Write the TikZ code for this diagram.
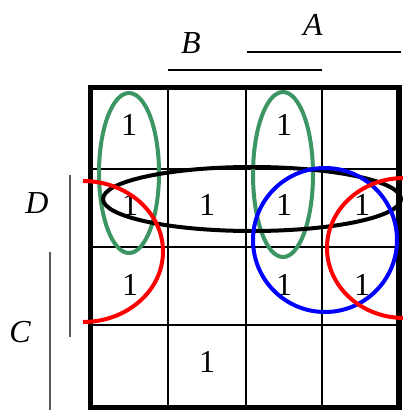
\documentclass[tikz,border=0pt]{standalone}
\usepackage{fontspec}
\setmainfont{Liberation Serif}
\definecolor{kgreen}{RGB}{60,150,100}
\begin{document}
\begin{tikzpicture}[x=1pt,y=-1pt,
  one/.style={font=\fontsize{32}{32}\selectfont, inner sep=0pt},
  var/.style={font=\fontsize{32}{32}\selectfont\itshape, inner sep=0pt},
  gridline/.style={line width=2.5pt},
  frame/.style={line width=5.5pt},
  ring/.style={line width=4pt},
  bar/.style={line width=1.8pt},
  sidebar/.style={line width=1.6pt, black!65}]
\useasboundingbox (0,0) rectangle (403,410);
\fill[white] (0,0) rectangle (403,410);
% grid
\foreach \x in {168,246,322} \draw[gridline] (\x,87.5) -- (\x,407.5);
\foreach \y in {169,247,325} \draw[gridline] (90.5,\y) -- (399,\y);
\draw[frame] (90.5,87.5) rectangle (399,407.5);
% variable labels and bars
\node[var] (A) at (313,25) {A};
\node[var] (B) at (191,43) {B};
\node[var] (D) at (37,203) {D};
\node[var] (C) at (20,332) {C};
\draw[bar] (247,52) -- (401,52);
\draw[bar] (168,70) -- (322,70);
\draw[sidebar] (70,175) -- (70,337);
\draw[sidebar] (50,252) -- (50,412);
% ones
\node[one] (m11) at (129,125) {1};
\node[one] (m13) at (284,125) {1};
\node[one] (m21) at (130,205) {1};
\node[one] (m22) at (207,205) {1};
\node[one] (m23) at (284,205) {1};
\node[one] (m24) at (362,205) {1};
\node[one] (m31) at (130,285) {1};
\node[one] (m33) at (284,285) {1};
\node[one] (m34) at (362,285) {1};
\node[one] (m42) at (207,362) {1};
% groupings
\draw[ring, kgreen] (129,173) ellipse [x radius=30, y radius=80];
\draw[ring, kgreen] (283,174.5) ellipse [x radius=30, y radius=82.5];
\draw[ring, black] (252,199) ellipse [x radius=149, y radius=32];
\draw[ring, blue] (325,240) circle [radius=72];
\draw[ring, red] (83,181) arc [start angle=-90, end angle=90, x radius=80, y radius=70.5];
\draw[ring, red] (404,178) arc [start angle=270, end angle=90, x radius=77, y radius=70];
\end{tikzpicture}
\end{document}
